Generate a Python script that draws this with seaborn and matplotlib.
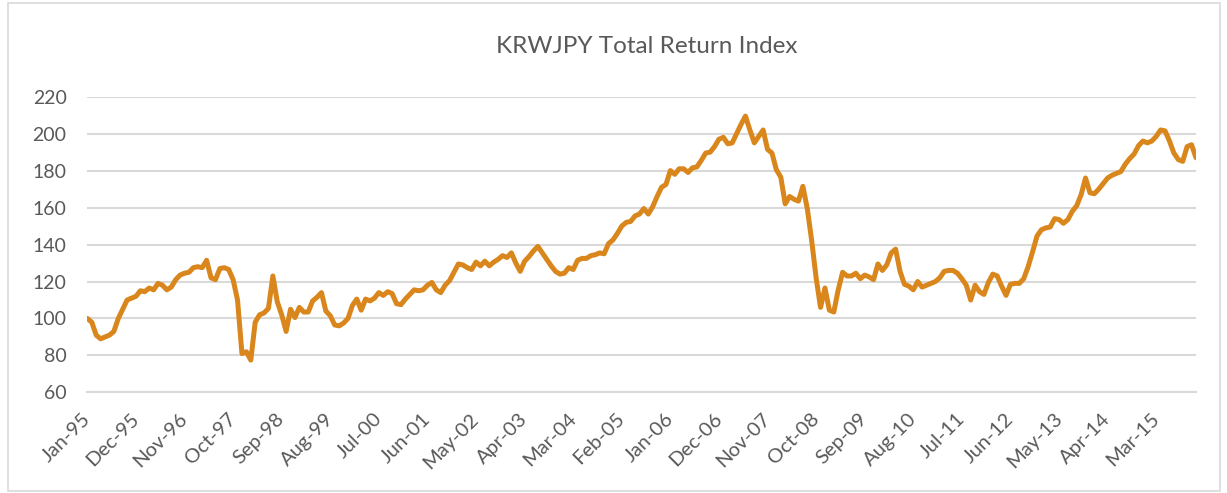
import pandas as pd
import numpy as np
import matplotlib
matplotlib.use('Agg')
import matplotlib.pyplot as plt
import seaborn as sns
from matplotlib.patches import Rectangle

# Serie mensual (Jan-95 .. Dec-15)
valores_95_98 = [100, 98, 91, 89, 90, 91, 93, 100, 105, 110, 111, 112, 115, 114.5, 116.5,
                 115.5, 119, 118, 115.5, 117, 121, 123.5, 124.5, 125, 127.5, 128, 127.5,
                 131.5, 122, 121, 127, 127.5, 126.5, 121, 110, 81, 82, 77.5, 98, 102, 103,
                 105.5, 123]
valores_98_01 = [109, 102, 93, 105, 100.5, 106, 103.5, 103.5, 109.5, 111.5, 114, 104, 101.5,
                 96.5, 96, 97.5, 100, 107, 110.5, 104.5, 110.5, 109.5, 111, 114, 112.5, 114.5,
                 113.5, 108, 107.5, 110.5, 113, 115.5, 115, 115.5, 118, 119.5, 115.5, 114,
                 118, 120.5, 125, 129.5]
valores_02_05 = [129, 127.5, 126.5, 130.5, 128.5, 131, 128.5, 130.5, 132, 134, 133, 135.5, 130,
                 125.5, 131, 133.5, 136.5, 139, 135.5, 132, 128.5, 125.5, 124, 124.5, 127.5,
                 126.5, 131.5, 132.5, 132.5, 134, 134.5, 135.5, 135, 140.5, 142.5, 146, 150,
                 152, 152.5, 155.5, 156.5, 159.5]
valores_05_09 = [156.5, 160.5, 166, 171, 172.5, 180, 178, 181, 181, 179, 181.5, 182, 185.5,
                 189.5, 190, 193, 197, 198, 194.5, 195, 200, 205, 209.5, 202, 195, 198.5, 202,
                 191.5, 189.5, 180.5, 176.5, 162, 166, 164.5, 163.5, 171.5, 159.5, 142, 122,
                 106, 116.5, 104.5]
valores_09_12 = [103.5, 115.5, 125, 123, 123, 124.5, 121.5, 123.5, 122.5, 121, 129.5, 126, 129,
                 135.5, 137.5, 125.5, 118.5, 117.5, 115.5, 120, 117, 118, 119, 120, 122, 125.5,
                 126, 126, 124.5, 121.5, 118, 110, 118, 114.5, 113, 119.5, 124, 123, 117.5,
                 112.5, 118.5, 119]
valores_12_15 = [119, 121.5, 128, 136, 144.5, 148, 149, 149.5, 154, 153.5, 151.5, 153.5, 158,
                 161, 167, 176, 168, 167.5, 170, 173, 176, 177.5, 178.5, 179.5, 183.5, 186.5,
                 189, 193.5, 196, 195, 196, 198.5, 202, 201.5, 196, 189.5, 186, 185, 193, 194,
                 187]

valores = (valores_95_98 + valores_98_01 + valores_02_05 + valores_05_09
           + valores_09_12 + valores_12_15)
fechas = pd.date_range('1995-01-01', periods=len(valores), freq='MS')

df = pd.DataFrame({'idx': np.arange(len(valores)), 'valor': valores})

sns.set_style('white')
plt.rcParams['font.family'] = ['Lato', 'DejaVu Sans']

gris_texto = '#595959'
gris_linea = '#d9d9d9'

fig = plt.figure(figsize=(12.27, 4.93), dpi=100)
ax = fig.add_axes([0.0712, 0.204, 0.9035, 0.5999])

sns.lineplot(data=df, x='idx', y='valor', color='#D9861C', linewidth=3.6, ax=ax)

ax.set_xlim(0, len(valores) - 1)
ax.set_ylim(60, 220)
ax.set_yticks(range(60, 221, 20))
ax.grid(axis='y', color=gris_linea, linewidth=1.5)
ax.set_axisbelow(True)

pos = list(range(0, len(valores), 11))
ax.set_xticks(pos)
ax.set_xticklabels([fechas[i].strftime('%b-%y') for i in pos], rotation=45,
                   ha='right', va='center', rotation_mode='anchor')

for s in ['top', 'right', 'left']:
    ax.spines[s].set_visible(False)
ax.spines['bottom'].set_color(gris_linea)
ax.spines['bottom'].set_linewidth(1.5)

ax.tick_params(axis='y', length=0, pad=15, labelsize=14, labelcolor=gris_texto)
ax.tick_params(axis='x', direction='out', length=5, width=1.2, color=gris_linea,
               pad=12, labelsize=14.5, labelcolor=gris_texto)
ax.set_xlabel('')
ax.set_ylabel('')

fig.text(0.527, 0.905, 'KRWJPY Total Return Index', ha='center', va='center',
         fontsize=17.5, color=gris_texto)

fig.patches.append(Rectangle((8 / 1227, 0.004), 1212 / 1227, 0.99, transform=fig.transFigure,
                             fill=False, edgecolor=gris_linea, linewidth=1.2))

fig.savefig('out.png', dpi=100)
